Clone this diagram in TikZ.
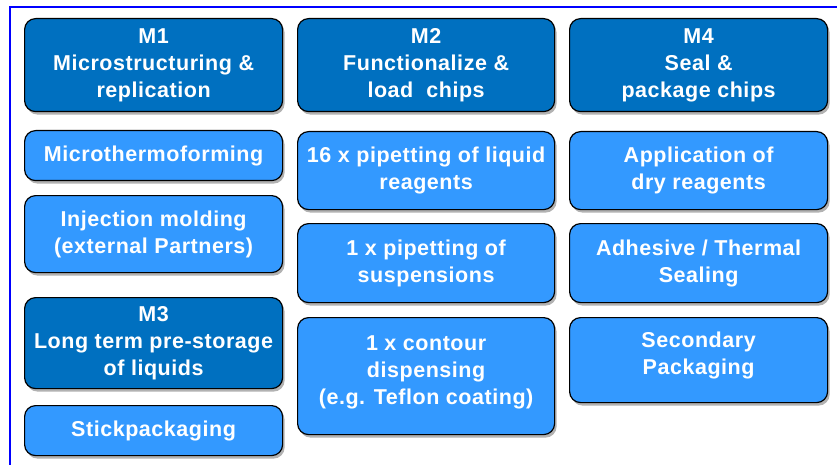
\documentclass[tikz,border=0pt]{standalone}
\usepackage{fontspec}
\setmainfont[LetterSpace=2.5]{Liberation Sans}
\usetikzlibrary{shadows}
\definecolor{darkbox}{HTML}{0070C0}
\definecolor{lightbox}{HTML}{3399FF}
\definecolor{framecol}{HTML}{0000FF}
% extra depth #1 lifts the centred lines by half of #1
\newcommand{\liftlines}[2]{\raisebox{0pt}[\height][\dimexpr\depth+#1\relax]{\begin{tabular}{@{}c@{}}#2\end{tabular}}}
\tikzset{
  basebox/.style={draw=black, line width=1.2pt, rounded corners=11pt, anchor=north west,
    inner sep=0pt, align=center, text=white,
    font=\fontsize{21.5}{27}\selectfont\bfseries,
    drop shadow={shadow xshift=2pt, shadow yshift=-3pt, fill=black!30, opacity=1}},
  headbox/.style={basebox, fill=darkbox},
  itembox/.style={basebox, fill=lightbox},
}
\begin{document}
\begin{tikzpicture}[x=1pt,y=-1pt]
\useasboundingbox (0,0) rectangle (837,465);
\fill[white] (0,0) rectangle (837,465);
\draw[framecol, line width=2pt] (10,466) coordinate (fl) -- (10,7) coordinate (fc) -- (838,7) coordinate (fr);
% column 1
\node[headbox, minimum width=258pt, minimum height=93pt] (m1) at (24,18) {M1\\Microstructuring \&\\replication};
\node[itembox, minimum width=258pt, minimum height=50pt] (micro) at (24,130) {Microthermoforming};
\node[itembox, minimum width=258pt, minimum height=77pt] (inj) at (24,195) {Injection molding\\(external Partners)};
\node[headbox, minimum width=258pt, minimum height=91pt] (m3) at (24,297) {M3\\Long term pre-storage\\of liquids};
\node[itembox, minimum width=258pt, minimum height=50pt] (stick) at (24,405) {Stickpackaging};
% column 2
\node[headbox, minimum width=257pt, minimum height=93pt] (m2) at (297,18) {M2\\Functionalize \&\\load\ \ chips};
\node[itembox, minimum width=257pt, minimum height=78pt] (pip16) at (297,131) {16 x pipetting of liquid\\reagents};
\node[itembox, minimum width=257pt, minimum height=79pt] (pip1) at (297,223) {1 x pipetting of\\suspensions};
\node[itembox, minimum width=257pt, minimum height=117pt] (contour) at (297,317) {\liftlines{8pt}{1 x contour\\dispensing\\(e.g. Teflon coating)}};
% column 3
\node[headbox, minimum width=258pt, minimum height=93pt] (m4) at (569,18) {M4\\Seal \&\\package chips};
\node[itembox, minimum width=258pt, minimum height=78pt] (dry) at (569,131) {Application of\\dry reagents};
\node[itembox, minimum width=258pt, minimum height=79pt] (seal) at (569,223) {Adhesive / Thermal\\Sealing};
\node[itembox, minimum width=258pt, minimum height=85pt] (sec) at (569,317) {\liftlines{10pt}{Secondary\\Packaging}};
\end{tikzpicture}
\end{document}
